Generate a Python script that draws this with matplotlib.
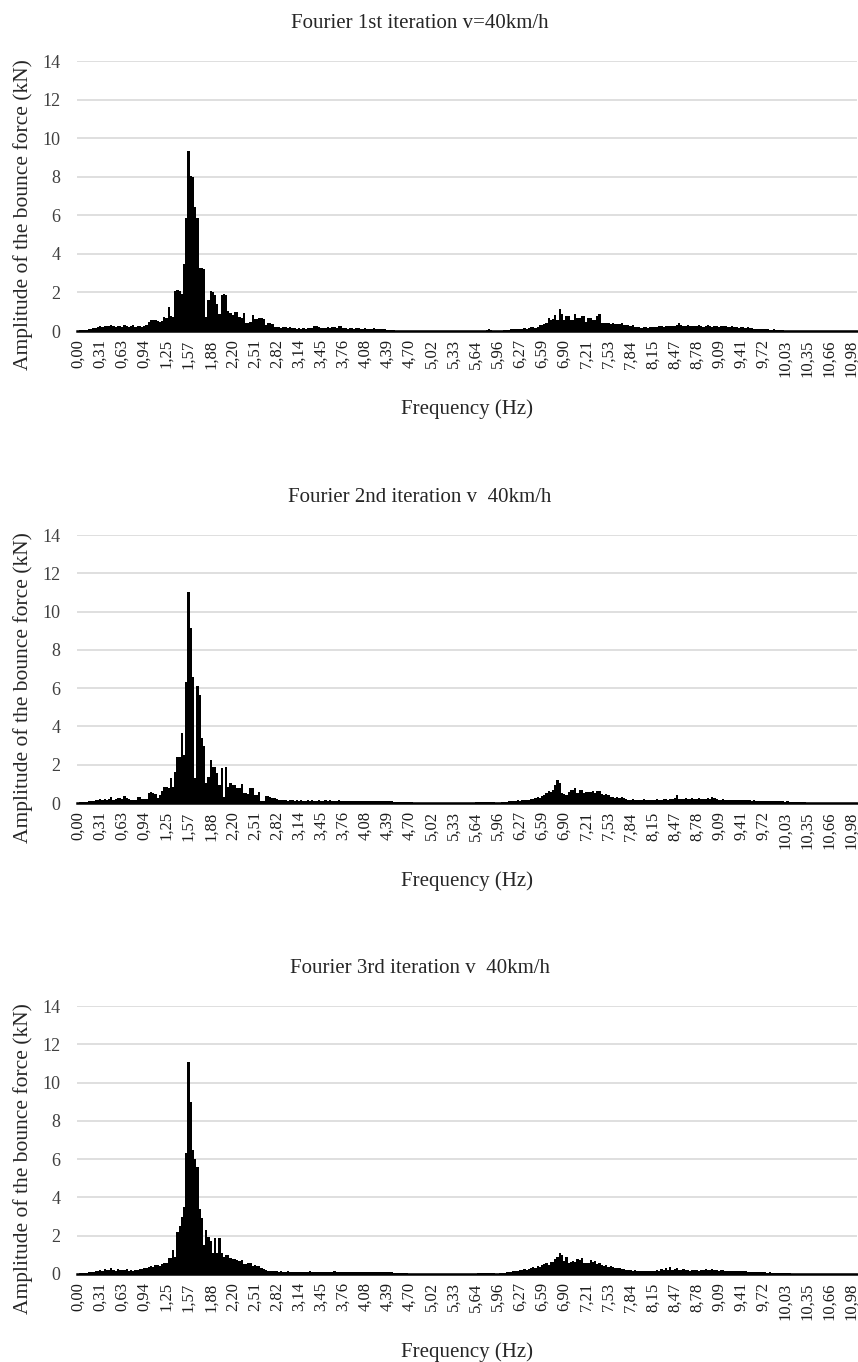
import matplotlib.pyplot as plt
import numpy as np

plt.rcParams['font.family'] = ['Liberation Serif', 'DejaVu Serif']

# Category labels shown under every 10th spectral line
FREQ_LABELS = [
    "0,00", "0,31", "0,63", "0,94", "1,25", "1,57", "1,88", "2,20", "2,51",
    "2,82", "3,14", "3,45", "3,76", "4,08", "4,39", "4,70", "5,02", "5,33",
    "5,64", "5,96", "6,27", "6,59", "6,90", "7,21", "7,53", "7,84", "8,15",
    "8,47", "8,78", "9,09", "9,41", "9,72", "10,03", "10,35", "10,66", "10,98",
]

TITLES = [
    "Fourier 1st iteration v=40km/h",
    "Fourier 2nd iteration v  40km/h",
    "Fourier 3rd iteration v  40km/h",
]

# Bounce force amplitude (kN), one value per spectral line, 10 lines per label
AMP_1ST = [
    0.02, 0.03, 0.03, 0.05, 0.06, 0.08, 0.12, 0.15, 0.18, 0.22,
    0.25, 0.22, 0.28, 0.24, 0.26, 0.30, 0.24, 0.22, 0.28, 0.25,
    0.22, 0.30, 0.25, 0.20, 0.25, 0.32, 0.22, 0.28, 0.25, 0.20,
    0.28, 0.30, 0.45, 0.55, 0.55, 0.58, 0.50, 0.45, 0.52, 0.72,
    0.70, 1.25, 0.80, 0.75, 2.05, 2.15, 2.10, 1.90, 3.50, 5.85,
    9.35, 8.05, 8.00, 6.45, 5.85, 3.25, 3.25, 3.20, 0.75, 1.60,
    2.05, 2.00, 1.85, 1.40, 0.90, 1.85, 1.90, 1.85, 1.05, 0.95,
    0.83, 0.98, 0.98, 0.74, 0.70, 0.95, 0.40, 0.40, 0.45, 0.83,
    0.60, 0.62, 0.66, 0.70, 0.60, 0.30, 0.40, 0.40, 0.35, 0.22,
    0.22, 0.20, 0.18, 0.22, 0.20, 0.16, 0.20, 0.18, 0.14, 0.12,
    0.14, 0.12, 0.14, 0.10, 0.14, 0.15, 0.18, 0.25, 0.26, 0.20,
    0.18, 0.16, 0.18, 0.20, 0.18, 0.20, 0.22, 0.18, 0.26, 0.25,
    0.15, 0.14, 0.12, 0.16, 0.14, 0.12, 0.15, 0.14, 0.10, 0.12,
    0.14, 0.12, 0.10, 0.12, 0.14, 0.10, 0.12, 0.08, 0.10, 0.08,
    0.06, 0.05, 0.04, 0.03, 0.02, 0.02, 0.01, 0.01, 0.01, 0.01,
    0.01, 0.01, 0.01, 0.01, 0.01, 0.01, 0.01, 0.01, 0.01, 0.01,
    0.01, 0.01, 0.01, 0.01, 0.01, 0.01, 0.01, 0.01, 0.01, 0.01,
    0.01, 0.01, 0.01, 0.01, 0.01, 0.01, 0.01, 0.01, 0.01, 0.01,
    0.01, 0.01, 0.01, 0.01, 0.01, 0.03, 0.08, 0.05, 0.01, 0.01,
    0.01, 0.01, 0.02, 0.03, 0.05, 0.06, 0.08, 0.10, 0.12, 0.10,
    0.12, 0.10, 0.13, 0.12, 0.18, 0.20, 0.22, 0.18, 0.20, 0.30,
    0.30, 0.35, 0.42, 0.70, 0.55, 0.62, 0.85, 0.58, 1.15, 0.90,
    0.55, 0.78, 0.78, 0.55, 0.58, 0.86, 0.70, 0.66, 0.80, 0.78,
    0.45, 0.66, 0.68, 0.55, 0.58, 0.80, 0.86, 0.42, 0.43, 0.40,
    0.42, 0.38, 0.40, 0.36, 0.38, 0.35, 0.40, 0.30, 0.33, 0.30,
    0.26, 0.30, 0.22, 0.20, 0.22, 0.18, 0.22, 0.20, 0.17, 0.20,
    0.20, 0.22, 0.20, 0.24, 0.26, 0.22, 0.26, 0.24, 0.26, 0.25,
    0.28, 0.30, 0.40, 0.30, 0.28, 0.26, 0.30, 0.28, 0.24, 0.28,
    0.26, 0.30, 0.27, 0.22, 0.28, 0.30, 0.25, 0.22, 0.28, 0.26,
    0.22, 0.28, 0.24, 0.26, 0.20, 0.22, 0.25, 0.20, 0.22, 0.18,
    0.20, 0.22, 0.18, 0.20, 0.16, 0.18, 0.12, 0.12, 0.10, 0.12,
    0.10, 0.08, 0.10, 0.06, 0.05, 0.08, 0.06, 0.04, 0.05, 0.03,
    0.02, 0.01, 0.01, 0.01, 0.01, 0.01, 0.01, 0.01, 0.01, 0.01,
    0.01, 0.01, 0.01, 0.01, 0.01, 0.01, 0.01, 0.01, 0.01, 0.01,
    0.01, 0.01, 0.01, 0.01, 0.01, 0.01, 0.01, 0.01, 0.01, 0.01,
    0.01, 0.01, 0.01,
]

AMP_2ND = [
    0.02, 0.03, 0.03, 0.05, 0.06, 0.08, 0.10, 0.12, 0.15, 0.18,
    0.20, 0.15, 0.22, 0.18, 0.20, 0.30, 0.18, 0.22, 0.25, 0.24,
    0.22, 0.37, 0.24, 0.20, 0.16, 0.15, 0.18, 0.33, 0.30, 0.20,
    0.19, 0.20, 0.54, 0.55, 0.50, 0.47, 0.24, 0.42, 0.64, 0.85,
    0.85, 0.80, 1.29, 0.85, 1.60, 2.38, 2.42, 3.64, 2.50, 6.34,
    11.03, 9.12, 6.56, 1.29, 6.10, 5.64, 3.38, 3.00, 1.03, 1.37,
    2.25, 1.90, 1.90, 1.55, 0.94, 1.81, 0.33, 1.86, 0.85, 1.03,
    0.94, 0.94, 0.77, 0.77, 1.00, 0.50, 0.50, 0.45, 0.80, 0.80,
    0.40, 0.42, 0.60, 0.12, 0.10, 0.35, 0.35, 0.32, 0.25, 0.25,
    0.20, 0.18, 0.15, 0.18, 0.15, 0.12, 0.15, 0.14, 0.12, 0.15,
    0.12, 0.14, 0.10, 0.13, 0.15, 0.12, 0.14, 0.11, 0.13, 0.15,
    0.12, 0.10, 0.14, 0.12, 0.15, 0.11, 0.13, 0.12, 0.16, 0.12,
    0.10, 0.13, 0.11, 0.12, 0.10, 0.13, 0.11, 0.10, 0.12, 0.09,
    0.11, 0.10, 0.12, 0.09, 0.10, 0.11, 0.09, 0.10, 0.08, 0.10,
    0.10, 0.08, 0.10, 0.06, 0.05, 0.06, 0.05, 0.04, 0.05, 0.04,
    0.04, 0.03, 0.02, 0.02, 0.01, 0.01, 0.01, 0.01, 0.01, 0.01,
    0.01, 0.01, 0.01, 0.01, 0.01, 0.01, 0.01, 0.01, 0.01, 0.01,
    0.01, 0.01, 0.01, 0.01, 0.01, 0.01, 0.01, 0.01, 0.01, 0.01,
    0.03, 0.04, 0.05, 0.04, 0.05, 0.06, 0.05, 0.04, 0.03, 0.02,
    0.02, 0.02, 0.03, 0.04, 0.06, 0.08, 0.10, 0.12, 0.12, 0.14,
    0.12, 0.15, 0.14, 0.16, 0.18, 0.20, 0.22, 0.25, 0.30, 0.28,
    0.35, 0.40, 0.50, 0.62, 0.55, 0.70, 0.96, 1.18, 1.04, 0.50,
    0.45, 0.40, 0.55, 0.68, 0.70, 0.78, 0.50, 0.68, 0.66, 0.50,
    0.60, 0.55, 0.60, 0.62, 0.50, 0.64, 0.65, 0.45, 0.42, 0.45,
    0.40, 0.30, 0.32, 0.28, 0.30, 0.25, 0.30, 0.28, 0.20, 0.18,
    0.18, 0.20, 0.16, 0.18, 0.15, 0.18, 0.20, 0.16, 0.18, 0.17,
    0.18, 0.16, 0.20, 0.18, 0.17, 0.20, 0.22, 0.18, 0.20, 0.22,
    0.25, 0.42, 0.22, 0.20, 0.22, 0.24, 0.20, 0.22, 0.25, 0.20,
    0.22, 0.24, 0.20, 0.22, 0.20, 0.24, 0.22, 0.30, 0.28, 0.20,
    0.18, 0.17, 0.20, 0.16, 0.18, 0.15, 0.17, 0.18, 0.16, 0.15,
    0.17, 0.15, 0.16, 0.14, 0.15, 0.13, 0.14, 0.12, 0.11, 0.10,
    0.10, 0.11, 0.09, 0.10, 0.08, 0.10, 0.09, 0.08, 0.10, 0.08,
    0.07, 0.08, 0.06, 0.07, 0.05, 0.06, 0.05, 0.04, 0.04, 0.03,
    0.02, 0.02, 0.01, 0.01, 0.01, 0.01, 0.01, 0.01, 0.01, 0.01,
    0.01, 0.01, 0.01, 0.01, 0.01, 0.01, 0.01, 0.01, 0.01, 0.01,
    0.01, 0.01, 0.01,
]

AMP_3RD = [
    0.02, 0.03, 0.04, 0.05, 0.07, 0.08, 0.10, 0.12, 0.14, 0.16,
    0.20, 0.18, 0.25, 0.20, 0.22, 0.30, 0.20, 0.18, 0.25, 0.20,
    0.22, 0.20, 0.25, 0.18, 0.20, 0.15, 0.22, 0.20, 0.25, 0.28,
    0.30, 0.32, 0.35, 0.40, 0.38, 0.45, 0.47, 0.42, 0.50, 0.56,
    0.56, 0.82, 0.82, 1.25, 0.90, 2.20, 2.50, 3.00, 3.50, 6.30,
    11.05, 9.00, 6.50, 6.00, 5.60, 3.40, 2.90, 1.50, 2.30, 1.95,
    1.70, 1.10, 1.86, 1.10, 1.86, 1.10, 0.90, 1.00, 1.00, 0.85,
    0.78, 0.80, 0.72, 0.70, 0.75, 0.52, 0.50, 0.60, 0.55, 0.43,
    0.45, 0.42, 0.40, 0.30, 0.25, 0.20, 0.17, 0.18, 0.15, 0.14,
    0.14, 0.12, 0.15, 0.13, 0.12, 0.14, 0.12, 0.10, 0.12, 0.10,
    0.12, 0.11, 0.13, 0.10, 0.12, 0.14, 0.11, 0.12, 0.10, 0.13,
    0.11, 0.12, 0.10, 0.13, 0.11, 0.12, 0.14, 0.10, 0.12, 0.11,
    0.10, 0.12, 0.09, 0.11, 0.10, 0.12, 0.10, 0.09, 0.11, 0.10,
    0.09, 0.10, 0.11, 0.09, 0.10, 0.08, 0.10, 0.09, 0.08, 0.09,
    0.10, 0.08, 0.09, 0.07, 0.06, 0.05, 0.05, 0.04, 0.04, 0.03,
    0.02, 0.02, 0.01, 0.01, 0.01, 0.01, 0.01, 0.01, 0.01, 0.01,
    0.01, 0.01, 0.01, 0.01, 0.01, 0.01, 0.01, 0.01, 0.01, 0.01,
    0.01, 0.01, 0.01, 0.01, 0.01, 0.01, 0.01, 0.01, 0.01, 0.01,
    0.02, 0.03, 0.04, 0.05, 0.04, 0.05, 0.06, 0.04, 0.03, 0.02,
    0.02, 0.03, 0.04, 0.06, 0.08, 0.10, 0.12, 0.14, 0.16, 0.18,
    0.20, 0.22, 0.25, 0.22, 0.28, 0.30, 0.35, 0.32, 0.40, 0.38,
    0.45, 0.50, 0.55, 0.48, 0.65, 0.62, 0.80, 0.90, 1.12, 1.00,
    0.70, 0.90, 0.60, 0.65, 0.70, 0.62, 0.80, 0.72, 0.85, 0.60,
    0.60, 0.55, 0.72, 0.62, 0.68, 0.50, 0.55, 0.45, 0.42, 0.45,
    0.38, 0.40, 0.35, 0.32, 0.30, 0.30, 0.28, 0.25, 0.22, 0.20,
    0.20, 0.18, 0.20, 0.17, 0.15, 0.18, 0.15, 0.16, 0.14, 0.15,
    0.18, 0.15, 0.20, 0.18, 0.25, 0.20, 0.30, 0.22, 0.35, 0.20,
    0.25, 0.30, 0.22, 0.20, 0.25, 0.22, 0.20, 0.18, 0.20, 0.22,
    0.20, 0.18, 0.22, 0.20, 0.25, 0.22, 0.20, 0.28, 0.22, 0.20,
    0.18, 0.22, 0.20, 0.16, 0.18, 0.17, 0.15, 0.18, 0.16, 0.15,
    0.15, 0.14, 0.16, 0.12, 0.13, 0.12, 0.10, 0.11, 0.10, 0.09,
    0.08, 0.09, 0.07, 0.08, 0.06, 0.07, 0.06, 0.05, 0.06, 0.04,
    0.04, 0.03, 0.03, 0.02, 0.01, 0.01, 0.01, 0.01, 0.01, 0.01,
    0.01, 0.01, 0.01, 0.01, 0.01, 0.01, 0.01, 0.01, 0.01, 0.01,
    0.01, 0.01, 0.01, 0.01, 0.01, 0.01, 0.01, 0.01, 0.01, 0.01,
    0.01, 0.01, 0.01,
]

W, H = 858, 1362
# pixel boxes of the three plot areas: (left, top, right, bottom)
BOXES = [(77, 61, 857, 331), (77, 535, 857, 803), (77, 1006, 857, 1274)]

fig = plt.figure(figsize=(W / 100, H / 100), dpi=100)

for amps, title, (x0, y0, x1, y1) in zip([AMP_1ST, AMP_2ND, AMP_3RD], TITLES, BOXES):
    ax = fig.add_axes([x0 / W, 1 - y1 / H, (x1 - x0) / W, (y1 - y0) / H])
    idx = np.arange(len(amps))
    ax.bar(idx, amps, width=1.0, color="black", linewidth=0, zorder=3)

    ax.set_xlim(-0.5, len(amps) - 0.5)
    ax.set_ylim(0, 14)
    ax.set_yticks(range(0, 15, 2))
    ax.set_xticks(range(0, 10 * len(FREQ_LABELS), 10))
    ax.set_xticklabels(FREQ_LABELS, rotation=90, fontsize=12, color="#1a1a1a")
    ax.tick_params(axis="y", labelsize=13, labelcolor="#404040", length=0, pad=12)
    ax.tick_params(axis="x", length=0, pad=6)

    ax.grid(axis="y", color="#d9d9d9", linewidth=1.2, zorder=0)
    for side in ("top", "right", "left"):
        ax.spines[side].set_visible(False)
    ax.spines["bottom"].set_linewidth(1.8)
    ax.spines["bottom"].set_zorder(4)

    ax.set_title(title, fontsize=15, color="#262626", pad=24, x=(420 - x0) / (x1 - x0))
    ax.set_xlabel("Frequency (Hz)", fontsize=15, color="#262626", labelpad=16)
    ax.set_ylabel("Amplitude of the bounce force (kN)", fontsize=15.5, color="#262626")
    # axis title sits a little lower than the plot-area centre
    ax.yaxis.set_label_coords((33 - x0) / (x1 - x0), 0.43)

fig.savefig("out.png", dpi=100, facecolor="white")
